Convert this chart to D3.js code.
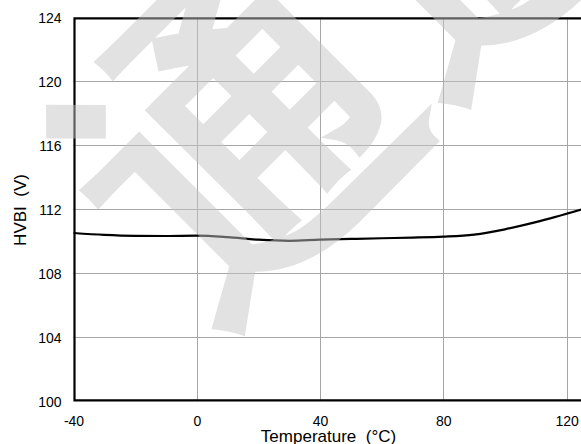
<!DOCTYPE html>
<html>
<head>
<meta charset="utf-8">
<script src="https://cdn.jsdelivr.net/npm/d3@7"></script>
<style>
  html, body { margin: 0; padding: 0; background: #fff; }
  svg { display: block; }
  text { font-family: "Liberation Sans", Arial, sans-serif; fill: #000; }
</style>
</head>
<body>
<svg id="chart" width="581" height="444"></svg>
<script>
// HVBI threshold versus junction temperature
const temperature = [-40, -30, -20, -10, 0, 10, 20, 30, 40, 50, 60, 70, 80, 90, 100, 110, 125];
const hvbi        = [110.52, 110.4, 110.34, 110.33, 110.35, 110.26, 110.1, 110.03, 110.1, 110.15, 110.19, 110.23, 110.29, 110.42, 110.75, 111.2, 112.0];
const xTicks = [-40, 0, 40, 80, 120];
const yTicks = [100, 104, 108, 112, 116, 120, 124];
const xTitle = "Temperature  (\u00B0C)";
const yTitle = "HVBI  (V)";
const stampText = "通通";

const svg = d3.select("#chart");
const plotLeft = 73.5, plotRight = 582, plotTop = 17.3, plotBottom = 401.3;

const x = d3.scaleLinear().domain([-40, 125]).range([plotLeft, plotRight]);
const y = d3.scaleLinear().domain([100, 124]).range([plotBottom, plotTop]);

// grid
const grid = svg.append("g").attr("stroke", "#a6a6a6").attr("stroke-width", 1);
grid.selectAll(".vx").data(xTicks.slice(1)).join("line")
  .attr("x1", d => Math.round(x(d)) + 0.5).attr("x2", d => Math.round(x(d)) + 0.5)
  .attr("y1", plotTop).attr("y2", plotBottom);
grid.selectAll(".hy").data(yTicks.slice(1, -1)).join("line")
  .attr("y1", d => Math.round(y(d)) + 0.5).attr("y2", d => Math.round(y(d)) + 0.5)
  .attr("x1", plotLeft).attr("x2", plotRight);

// axes (labels only, frame drawn separately)
const xAxis = d3.axisBottom(x).tickValues(xTicks).tickSize(0).tickPadding(0).tickFormat(d => String(d));
const gx = svg.append("g").attr("transform", `translate(0,${plotBottom})`).call(xAxis);
gx.select(".domain").remove();
gx.selectAll("text").attr("font-size", 14).attr("dy", null).attr("y", 25)
  .attr("font-family", "Liberation Sans, Arial, sans-serif").attr("fill", "#000");

const yAxis = d3.axisLeft(y).tickValues(yTicks).tickSize(0).tickPadding(0).tickFormat(d => String(d));
const gy = svg.append("g").attr("transform", `translate(${plotLeft},0)`).call(yAxis);
gy.select(".domain").remove();
gy.selectAll("text").attr("font-size", 14).attr("x", -12).attr("dy", "0.36em")
  .attr("font-family", "Liberation Sans, Arial, sans-serif").attr("fill", "#000");

// frame
svg.append("path")
  .attr("d", `M${plotRight},${plotTop + 1}H${plotLeft + 1}V${plotBottom - 1}H${plotRight}`)
  .attr("fill", "none").attr("stroke", "#000").attr("stroke-width", 2.2);

// curve
const line = d3.line().x((d, i) => x(temperature[i])).y(d => y(d)).curve(d3.curveMonotoneX);
svg.append("path").datum(hvbi).attr("d", line)
  .attr("fill", "none").attr("stroke", "#000").attr("stroke-width", 2.2);

// titles
svg.append("text").attr("x", 328.5).attr("y", 441.5).attr("text-anchor", "middle")
  .attr("font-size", 17).style("white-space", "pre").text(xTitle);
svg.append("text").attr("transform", "translate(26,210) rotate(-90)").attr("text-anchor", "middle")
  .attr("font-size", 17).style("white-space", "pre").text(yTitle);

// translucent diagonal stamp over the plot
svg.append("text").attr("transform", "translate(243,136) rotate(-45)")
  .attr("x", -160).attr("dominant-baseline", "central")
  .attr("font-family", "Noto Sans CJK SC").attr("font-weight", 900).attr("font-size", 320)
  .style("fill", "#c5c5c5").attr("opacity", 0.49).text(stampText);
</script>
</body>
</html>
